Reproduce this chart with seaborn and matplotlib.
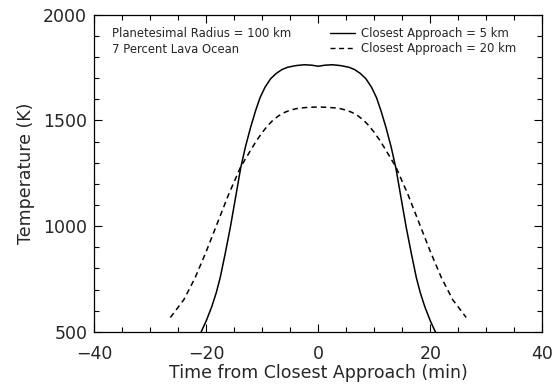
import numpy as np
import pandas as pd
import matplotlib
matplotlib.use("Agg")
import matplotlib.pyplot as plt
import seaborn as sns

# Closest approach = 5 km (solid)
time_5km = [-21.4, -20.9, -20.0, -19.0, -18.2, -17.5, -16.6, -15.7, -14.8, -13.85,
            -13.0, -12.1, -11.2, -10.4, -9.5, -8.5, -7.5, -6.5, -5.5, -4.0, -2.5, -1.2, 0.0,
            1.2, 2.5, 4.0, 5.5, 6.5, 7.5, 8.5, 9.5, 10.4, 11.2, 12.1, 13.0, 13.85,
            14.8, 15.7, 16.6, 17.5, 18.2, 19.0, 20.0, 20.9, 21.4]
temp_5km = [465, 500, 552, 620, 686, 757, 872, 994, 1130, 1275,
            1375, 1465, 1545, 1607, 1657, 1697, 1722, 1740, 1751, 1759, 1763, 1761, 1756,
            1761, 1763, 1759, 1751, 1740, 1722, 1697, 1657, 1607, 1545, 1465, 1375, 1275,
            1130, 994, 872, 757, 686, 620, 552, 500, 465]

# Closest approach = 20 km (dashed)
time_20km = [-26.4, -24.0, -22.0, -20.0, -18.0, -16.0, -13.85, -12.0, -11.0, -10.0, -9.0,
             -8.0, -7.0, -6.0, -5.0, -4.0, -3.0, -2.0, -1.0, 0.0, 1.0, 2.0, 3.0, 4.0,
             5.0, 6.0, 7.0, 8.0, 9.0, 10.0, 11.0, 12.0, 13.85,
             16.0, 18.0, 20.0, 22.0, 24.0, 26.4]
temp_20km = [568, 652, 755, 880, 1015, 1150, 1280, 1362, 1405, 1443, 1476,
             1503, 1523, 1538, 1548, 1555, 1559, 1561, 1562.5, 1563, 1562.5, 1561, 1559, 1555,
             1548, 1538, 1523, 1503, 1476, 1443, 1405, 1362, 1280,
             1150, 1015, 880, 755, 652, 568]

series_names = ["Closest Approach = 5 km", "Closest Approach = 20 km"]
x_ticks = [-40, -20, 0, 20, 40]
y_ticks = [500, 1000, 1500, 2000]
annotations = ["Planetesimal Radius = 100 km", "7 Percent Lava Ocean"]

df = pd.concat([
    pd.DataFrame({"t": time_5km, "T": temp_5km, "series": series_names[0]}),
    pd.DataFrame({"t": time_20km, "T": temp_20km, "series": series_names[1]}),
], ignore_index=True)

sns.set_style("ticks")
plt.rcParams["font.family"] = ["DejaVu Sans"]
plt.rcParams["xtick.direction"] = "in"
plt.rcParams["ytick.direction"] = "in"

fig = plt.figure(figsize=(5.54, 3.85), dpi=100)
ax = fig.add_axes([0.170, 0.138, 0.809, 0.824])

sns.lineplot(data=df, x="t", y="T", style="series", color="black",
             dashes={series_names[0]: "", series_names[1]: (3.6, 2.6)},
             style_order=series_names, estimator=None, sort=True,
             linewidth=1.1, ax=ax, legend=True)

ax.set_xlim(-40, 40)
ax.set_ylim(500, 2000)
ax.set_xticks(x_ticks)
ax.set_yticks(y_ticks)
ax.set_xticks(np.arange(-40, 41, 5), minor=True)
ax.set_yticks(np.arange(500, 2001, 100), minor=True)
ax.set_xticklabels(["\u2212" + str(abs(v)) if v < 0 else str(v) for v in x_ticks])
ax.tick_params(which="both", top=True, right=True, direction="in",
               width=0.8, color="black")
ax.tick_params(which="major", length=6, labelsize=12.5)
ax.tick_params(axis="x", which="major", pad=9.5)
ax.tick_params(axis="y", which="major", pad=5)
ax.tick_params(which="minor", length=3.5)
for s in ax.spines.values():
    s.set_linewidth(0.9)
    s.set_color("black")

ax.set_xlabel("Time from Closest Approach (min)", fontsize=12.5, labelpad=0.8)
ax.set_ylabel("Temperature (K)", fontsize=12.5, labelpad=6)

leg = ax.legend(loc="upper left", bbox_to_anchor=(0.515, 0.976), frameon=False,
                fontsize=8.4, handlelength=2.2, handletextpad=0.5,
                labelspacing=0.2, borderaxespad=0)
for line in leg.get_lines():
    line.set_linewidth(1.0)

ax.text(0.040, 0.941, annotations[0], transform=ax.transAxes, fontsize=8.4,
        va="center", ha="left")
ax.text(0.040, 0.891, annotations[1], transform=ax.transAxes, fontsize=8.4,
        va="center", ha="left")

fig.savefig("out.png", dpi=100)
